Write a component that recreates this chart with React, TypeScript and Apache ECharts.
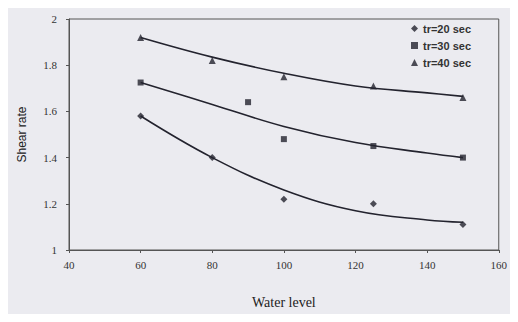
import React, { useEffect, useRef } from "react";
import * as echarts from "echarts";

const xTicks = [40, 60, 80, 100, 120, 140, 160];
const xPts20 = [60, 80, 100, 125, 150];
const yPts20 = [1.58, 1.40, 1.22, 1.20, 1.11];
const xPts30 = [60, 90, 100, 125, 150];
const yPts30 = [1.725, 1.64, 1.48, 1.45, 1.40];
const xPts40 = [60, 80, 100, 125, 150];
const yPts40 = [1.92, 1.82, 1.75, 1.71, 1.66];

const xCurve = [60, 80, 100, 120, 140, 150];
const yCurve20 = [1.58, 1.40, 1.26, 1.17, 1.13, 1.12];
const yCurve30 = [1.725, 1.63, 1.535, 1.465, 1.42, 1.40];
const yCurve40 = [1.92, 1.835, 1.765, 1.71, 1.68, 1.665];

const names = ["tr=20 sec", "tr=30 sec", "tr=40 sec"];

const zip = (xs: number[], ys: number[]) => xs.map((x, i) => [x, ys[i]]);

export default function App() {
  const ref = useRef<HTMLDivElement>(null);
  useEffect(() => {
    if (!ref.current) return;
    const chart = echarts.init(ref.current, null, { renderer: "svg" });
    const ink = "#23232e";
    const curve = (ys: number[]) => ({
      type: "line",
      data: zip(xCurve, ys),
      smooth: 0.4,
      symbol: "none",
      lineStyle: { color: ink, width: 1.6 },
      silent: true,
    });
    chart.setOption({
      animation: false,
      backgroundColor: "#ebebf0",
      grid: {
        left: 56,
        right: 7,
        top: 11,
        bottom: 56,
        show: true,
        borderColor: "#555",
        borderWidth: 1,
      },
      legend: {
        orient: "vertical",
        left: 398,
        top: 10,
        itemGap: 6,
        itemWidth: 7,
        itemHeight: 7,
        data: [
          { name: names[0], icon: "diamond" },
          { name: names[1], icon: "rect" },
          { name: names[2], icon: "triangle" },
        ],
        textStyle: {
          fontFamily: "Liberation Sans",
          fontSize: 11,
          fontWeight: "bold",
          color: "#333",
        },
      },
      xAxis: {
        type: "value",
        min: 40,
        max: 160,
        interval: 20,
        name: "Water level",
        nameLocation: "middle",
        nameGap: 45,
        nameTextStyle: { fontFamily: "Liberation Serif", fontSize: 14, color: "#222" },
        axisLine: { lineStyle: { color: "#555" } },
        axisTick: { show: true, length: 3, lineStyle: { color: "#555" } },
        axisLabel: {
          fontFamily: "Liberation Serif",
          fontSize: 11,
          color: "#333",
          margin: 9,
          customValues: xTicks,
        },
        splitLine: { show: false },
      },
      yAxis: {
        type: "value",
        min: 1,
        max: 2,
        interval: 0.2,
        name: "Shear rate",
        nameLocation: "middle",
        nameGap: 41,
        nameTextStyle: { fontFamily: "Liberation Sans", fontSize: 12, color: "#222" },
        axisLine: { show: true, lineStyle: { color: "#555" } },
        axisTick: { show: true, length: 3, lineStyle: { color: "#555" } },
        axisLabel: { fontFamily: "Liberation Serif", fontSize: 11, color: "#333", margin: 12 },
        splitLine: { show: false },
      },
      series: [
        {
          name: names[0],
          type: "scatter",
          data: zip(xPts20, yPts20),
          symbol: "diamond",
          symbolSize: 7,
          itemStyle: { color: ink },
          z: 5,
        },
        {
          name: names[1],
          type: "scatter",
          data: zip(xPts30, yPts30),
          symbol: "rect",
          symbolSize: 6,
          itemStyle: { color: ink },
          z: 5,
        },
        {
          name: names[2],
          type: "scatter",
          data: zip(xPts40, yPts40),
          symbol: "triangle",
          symbolSize: 7,
          itemStyle: { color: ink },
          z: 5,
        },
        curve(yCurve20),
        curve(yCurve30),
        curve(yCurve40),
      ],
    });
    return () => chart.dispose();
  }, []);
  return <div ref={ref} style={{ width: 502, height: 306 }} />;
}
